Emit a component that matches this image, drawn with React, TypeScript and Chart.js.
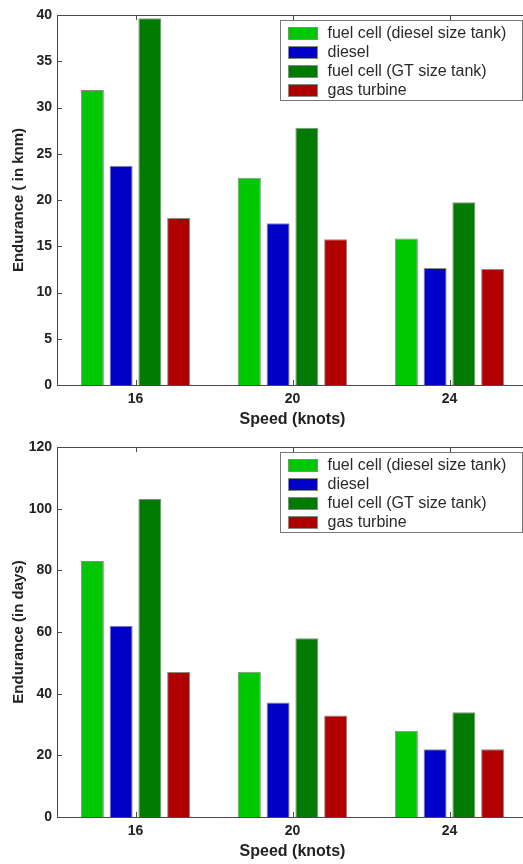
import React, { useEffect, useRef } from 'react';
import { Chart, registerables } from 'chart.js';

Chart.register(...registerables);

const speeds = ['16', '20', '24'];
const seriesLabels = ['fuel cell (diesel size tank)', 'diesel', 'fuel cell (GT size tank)', 'gas turbine'];
const seriesColors = ['#00c800', '#0000c8', '#007a00', '#b00000'];

const knmFuelCellDiesel = [31.9, 22.4, 15.85];
const knmDiesel = [23.7, 17.5, 12.65];
const knmFuelCellGT = [39.65, 27.8, 19.75];
const knmGasTurbine = [18.05, 15.75, 12.55];

const daysFuelCellDiesel = [83, 47.1, 28];
const daysDiesel = [62, 37.1, 22];
const daysFuelCellGT = [103.1, 58, 34];
const daysGasTurbine = [47, 32.9, 22];

const knmTickStep = 5;
const knmMax = 40;
const daysTickStep = 20;
const daysMax = 120;

const FONT = '"Liberation Sans", Arial, Helvetica, sans-serif';
const AXIS_COLOR = '#4a4a4a';
const TEXT_COLOR = '#222222';

const framePlugin = {
  id: 'frame',
  afterDatasetsDraw(chart: any) {
    const { ctx, chartArea } = chart;
    const { left, right, top, bottom } = chartArea;
    const tl = 5;
    ctx.save();
    ctx.strokeStyle = AXIS_COLOR;
    ctx.lineWidth = 1;
    ctx.beginPath();
    ctx.rect(Math.round(left) + 0.5, Math.round(top) + 0.5, Math.round(right - left), Math.round(bottom - top));
    ctx.stroke();
    const ys = chart.scales.y;
    ctx.beginPath();
    ys.ticks.forEach((t: any) => {
      const py = Math.round(ys.getPixelForValue(t.value)) + 0.5;
      ctx.moveTo(left, py);
      ctx.lineTo(left + tl, py);
      ctx.moveTo(right, py);
      ctx.lineTo(right - tl, py);
    });
    const xs = chart.scales.x;
    xs.ticks.forEach((_t: any, i: number) => {
      const px = Math.round(xs.getPixelForTick(i)) + 0.5;
      ctx.moveTo(px, bottom);
      ctx.lineTo(px, bottom - tl);
      ctx.moveTo(px, top);
      ctx.lineTo(px, top + tl);
    });
    ctx.stroke();

    // legend
    const boxW = 242;
    const boxH = 80;
    const bx = Math.round(right - 6 - boxW) + 0.5;
    const by = Math.round(top + 5) + 0.5;
    ctx.fillStyle = '#ffffff';
    ctx.fillRect(bx, by, boxW, boxH);
    ctx.strokeStyle = '#777777';
    ctx.strokeRect(bx, by, boxW, boxH);
    ctx.font = `16px ${FONT}`;
    ctx.textBaseline = 'middle';
    ctx.textAlign = 'left';
    chart.data.datasets.forEach((ds: any, i: number) => {
      const cy = by + 12 + i * 19;
      ctx.fillStyle = ds.backgroundColor;
      ctx.fillRect(bx + 8, Math.round(cy - 6), 29, 12);
      ctx.strokeStyle = '#888888';
      ctx.strokeRect(bx + 8, Math.round(cy - 6) + 0.5, 29, 12);
      ctx.fillStyle = '#2a2a2a';
      ctx.fillText(ds.label, bx + 47, cy + 1);
    });
    ctx.restore();
  },
};

function BarPanel(props: { series: number[][]; yTitle: string; max: number; step: number }) {
  const ref = useRef<HTMLCanvasElement | null>(null);
  useEffect(() => {
    if (!ref.current) return;
    const chart = new Chart(ref.current, {
      type: 'bar',
      data: {
        labels: speeds,
        datasets: props.series.map((vals, i) => ({
          label: seriesLabels[i],
          data: vals,
          backgroundColor: seriesColors[i],
          borderColor: '#8a8a8a',
          borderWidth: 1,
          categoryPercentage: 0.733,
          barPercentage: 0.8,
        })),
      },
      options: {
        responsive: false,
        animation: false,
        devicePixelRatio: 1,
        layout: { padding: { top: 15, right: 2, left: 0, bottom: 0 } },
        plugins: { legend: { display: false }, tooltip: { enabled: false } },
        scales: {
          x: {
            type: 'category',
            offset: true,
            grid: { display: false, drawTicks: false },
            border: { display: false },
            ticks: { font: { family: FONT, size: 14, weight: 'bold' }, color: TEXT_COLOR, padding: 6 },
            title: {
              display: true,
              text: 'Speed (knots)',
              font: { family: FONT, size: 16, weight: 'bold' },
              color: TEXT_COLOR,
              padding: { top: 0, bottom: 3 },
            },
            afterFit: (s: any) => {
              s.height = 47;
            },
          },
          y: {
            min: 0,
            max: props.max,
            grid: { display: false, drawTicks: false },
            border: { display: false },
            ticks: {
              stepSize: props.step,
              font: { family: FONT, size: 14, weight: 'bold' },
              color: TEXT_COLOR,
              padding: 5,
            },
            title: {
              display: true,
              text: props.yTitle,
              font: { family: FONT, size: 15, weight: 'bold' },
              color: TEXT_COLOR,
              padding: { top: 10, bottom: 0 },
            },
            afterFit: (s: any) => {
              s.width = 57;
            },
          },
        },
      } as any,
      plugins: [framePlugin],
    });
    return () => chart.destroy();
  }, []);
  return (
    <div style={{ width: 530, height: 432 }}>
      <canvas ref={ref} width={530} height={432} style={{ display: 'block', width: 530, height: 432 }} />
    </div>
  );
}

export default function App() {
  return (
    <div
      style={{
        position: 'absolute',
        left: 0,
        top: 0,
        width: 523,
        height: 864,
        overflow: 'hidden',
        background: '#ffffff',
      }}
    >
      <BarPanel
        series={[knmFuelCellDiesel, knmDiesel, knmFuelCellGT, knmGasTurbine]}
        yTitle="Endurance ( in knm)"
        max={knmMax}
        step={knmTickStep}
      />
      <BarPanel
        series={[daysFuelCellDiesel, daysDiesel, daysFuelCellGT, daysGasTurbine]}
        yTitle="Endurance (in days)"
        max={daysMax}
        step={daysTickStep}
      />
    </div>
  );
}
